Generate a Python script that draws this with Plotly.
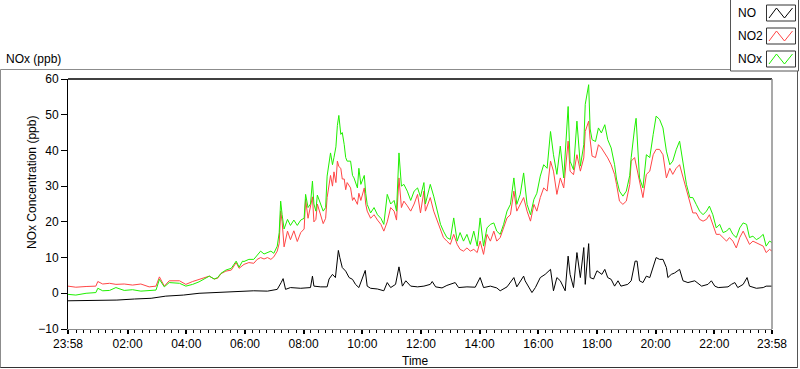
import plotly.graph_objects as go

# ---------------- data (minutes since 23:58, ppb) ----------------
t_seg1 = [0, 16, 37, 57, 61, 71, 85, 98, 115, 132, 149, 166, 180, 187, 197, 207, 228, 241, 255, 268,
          282, 289, 299, 306, 313, 323, 334, 344, 350, 357]
t_seg2 = [360, 370, 380, 387, 394, 401, 408, 415, 421, 428, 432, 435, 438, 442, 449, 455, 462, 469, 476, 483,
          486, 491, 496, 500, 503, 507, 510, 517, 522, 527, 530, 537, 541, 544, 548, 551, 554, 558, 561, 565,
          568, 571, 578, 582, 585, 592, 595, 599, 606, 609, 612, 619, 626, 633, 640, 646, 653, 660, 667, 672,
          677, 682, 687, 694, 701, 708, 715, 721, 728]
t_seg3 = [731, 741, 748, 755, 762, 768, 775, 782, 789, 796, 802, 809, 816, 823, 830, 837, 843, 850, 857, 864,
          871, 877, 884, 891, 898, 905, 912, 918, 925, 932, 939, 946, 953, 959, 966, 973, 980, 987, 993, 1000,
          1007, 1014, 1023, 1027, 1034, 1041, 1048, 1055, 1058, 1065, 1068, 1072, 1079, 1085]
t_seg4 = [1091, 1098, 1104, 1111, 1118, 1122, 1128, 1135, 1142, 1149, 1152, 1159, 1162, 1169, 1176, 1183, 1190,
          1197, 1203, 1210, 1217, 1224, 1231, 1237, 1244, 1251, 1258, 1265, 1272, 1278, 1285, 1292, 1299, 1306,
          1312, 1319, 1326, 1333, 1340, 1347, 1353, 1360, 1367, 1374, 1381, 1388, 1394, 1401, 1408, 1415, 1422,
          1428, 1435, 1440]
time_nox = t_seg1 + t_seg2 + t_seg3 + t_seg4

no2_values = [
    2.0, 1.7, 1.9, 2.0, 3.3, 2.6, 2.8, 2.5, 2.6, 2.3, 2.6, 1.8, 2.0, 4.6, 2.0, 3.5, 3.5, 2.5, 3.3, 3.8,
    4.4, 4.8, 4.0, 4.2, 5.5, 6.2, 6.5, 8.6, 7.0, 7.8,
    8.1, 8.6, 8.4, 9.5, 10, 9.6, 10, 9.5, 10.2, 11.8, 14, 23, 20, 13, 17.4, 15, 17.5, 14.5, 17, 18,
    26.3, 21, 24, 27, 20, 20.7, 25, 22, 19.5, 21, 26.8, 33, 30, 34, 31, 37, 35.5, 35, 32, 32,
    29, 31, 29.5, 26, 26.8, 24.9, 28, 26, 29.5, 25, 23, 21, 22, 20.5, 19.3, 17.4, 20, 24, 23, 20.5,
    32.3, 24, 25.8, 24.5, 23, 25, 27.7, 22.5, 28.6,
    23, 26.8, 23, 20.2, 17.4, 15.6, 14.6, 13.7, 16.5, 13.7, 12.3, 11.8, 12.7, 11.8, 12.3, 11.4, 14.6, 10.9, 16.5, 14.6,
    17.4, 14.6, 15.6, 18.3, 21.1, 22, 28.6, 23, 24.9, 26.8, 23, 20.2, 24.9, 23, 26.8, 29.5, 28.6, 37, 34.2, 27.7,
    32.3, 29.5, 42.6, 34.2, 33.2, 38.8, 34.2, 37.9, 45.3, 48.2, 43, 38.4, 38, 41.6,
    40.7, 39.3, 37.9, 36, 33.3, 30.5, 25.8, 24.9, 25.8, 30.5, 37, 38, 36, 30.5, 26.8, 33.3, 34.2, 38.8, 40.3, 40.3,
    38.8, 32.3, 35, 33.3, 35, 36, 32.3, 28.6, 24.9, 22.5, 22.5, 20.7, 20.2, 20.7, 22, 19.3, 16.5, 16.5, 15.6, 14.6,
    15.6, 14.6, 12.7, 15.6, 17.4, 15.6, 13.7, 14.6, 14.2, 13.7, 13.2, 11.4, 12.3, 11.8]

nox_values = [
    -0.3, -0.5, 0.0, 0.2, 1.4, 0.7, 0.8, 1.6, 0.8, 1.0, 0.6, 0.7, 0.9, 3.9, 1.8, 3.0, 2.8, 2.0, 2.5, 3.2,
    4.4, 4.8, 4.0, 4.4, 5.6, 6.5, 7.0, 9.0, 7.3, 9.0,
    8.9, 9.5, 9.5, 10.5, 11.8, 11, 11.3, 11.8, 11.2, 13.2, 17, 25.8, 22, 18, 20.7, 19, 20.5, 19, 20.5, 21,
    27.7, 24, 25, 31.4, 25, 23, 27.5, 25, 23, 24, 32.8, 39.3, 36, 38, 41, 47, 49.8, 44.5, 45, 41.6,
    38, 37, 37, 33, 32.3, 29.5, 35, 30.5, 33, 28, 24.9, 22.5, 24, 22, 21, 19.3, 27.7, 25, 26, 23,
    39.3, 30, 30.5, 28.6, 26, 28.6, 29.5, 27, 31,
    25, 30.5, 27.2, 23, 19.3, 17.4, 15.6, 15.1, 21.1, 14.6, 17, 14.6, 16.5, 13.7, 17.4, 13.2, 21.1, 13.2, 18.3, 19.3,
    19.7, 17.4, 16.5, 19.3, 23, 24.9, 32.3, 24.9, 27.7, 33.7, 24.9, 22, 26.3, 28, 32.8, 36, 35, 45.3, 38.8, 33.3,
    41.2, 32.3, 52.3, 37, 34.6, 48.2, 35.6, 41.6, 52.9, 58.4, 46, 43, 42.5, 46.3,
    44.9, 47.2, 43, 40.7, 36, 32, 28.6, 27.2, 28.6, 33, 38, 46.3, 49, 32.3, 29.5, 38.8, 38, 44.5, 49.6, 48.7,
    46.3, 39.8, 36, 37, 40.2, 42.6, 37, 30.5, 26.8, 26.8, 24.9, 23, 22, 23, 24.4, 22, 18.3, 19.3, 17, 17.4,
    18.3, 16.5, 15.6, 18.3, 19.7, 19.3, 15.6, 16, 15, 15.6, 16.5, 13.2, 14.6, 14.2]

time_no = [0, 30, 60, 100, 136, 170, 200, 236, 268, 299, 333, 357,
           380, 408, 428, 436, 440, 445, 455, 476, 496, 500, 503, 517, 530, 534, 541, 547, 553, 556, 561, 568,
           575, 582, 588, 595, 602, 608, 612, 619, 633, 646, 653, 660, 670, 677, 684, 691, 701, 715, 728,
           741, 745, 752, 765, 775, 792, 799, 816, 833, 843, 850, 864, 877, 884, 898, 912, 918, 932, 935, 949,
           956, 966, 976, 987, 993, 1000, 1007, 1017, 1023, 1027, 1034, 1041, 1048, 1055, 1058, 1065, 1068,
           1075, 1082, 1092,
           1098, 1104, 1111, 1118, 1125, 1131, 1145, 1152, 1160, 1164, 1169, 1176, 1183, 1190, 1197, 1203, 1210,
           1217, 1224, 1227, 1234, 1241, 1251, 1258, 1268, 1282, 1296, 1309, 1316, 1323, 1330, 1350, 1357, 1364,
           1370, 1381, 1389, 1394, 1408, 1422, 1428, 1440]
no_values = [
    -2.1, -2.1, -2.0, -1.9, -1.6, -1.4, -0.8, -0.5, 0.0, 0.2, 0.4, 0.6,
    0.7, 0.6, 1.1, 3, 4.1, 1.1, 1.6, 1.4, 1.6, 4.8, 2.0, 1.8, 1.8, 4.0, 5.3, 4.4, 12, 10, 7.2, 6.2,
    4.4, 3.9, 2.5, 1.6, 3.9, 6.4, 2.0, 1.4, 1.2, 0.7, 3.0, 1.6, 2.5, 7.4, 2.0, 3.5, 2.0, 1.8, 2.0,
    2.5, 3.3, 1.8, 1.5, 2.2, 3.0, 1.6, 1.8, 1.7, 4.4, 1.6, 2.0, 1.5, 0.7, 1.8, 4.4, 1.8, 4.8, 3.5, 0.2,
    1.6, 4.4, 5.3, 6.7, 0.7, 4.4, 3.5, 0.7, 10.4, 5.3, 1.6, 11.4, 4.4, 12.8, 2.5, 13.9, 4.4, 4.0, 6.3, 5.3,
    6.7, 4.4, 3.9, 2.0, 3.5, 2.0, 2.5, 3.5, 9.0, 9.0, 3.5, 3.0, 4.8, 4.4, 7.2, 10.0, 9.5, 9.5, 7.2, 4.4,
    5.3, 5.7, 6.7, 3.5, 3.0, 3.5, 2.0, 2.5, 3.5, 2.0, 1.6, 1.8, 2.5, 3.0, 1.6, 2.5, 4.4, 2.0, 1.4, 1.6,
    2.0, 2.0]

x_tick_vals = [0, 122, 242, 362, 482, 602, 722, 842, 962, 1082, 1202, 1322, 1440]
x_tick_text = ["23:58", "02:00", "04:00", "06:00", "08:00", "10:00", "12:00", "14:00", "16:00",
               "18:00", "20:00", "22:00", "23:58"]
y_tick_vals = [-10, 0, 10, 20, 30, 40, 50, 60]

series_names = ["NO", "NO2", "NOx"]
series_colors = ["#000000", "#ff4646", "#1ff000"]

assert len(time_nox) == len(no2_values) == len(nox_values)
assert len(time_no) == len(no_values)

# ---------------- figure ----------------
W, H = 800, 369
L, R, T, B = 68, 772, 79, 329  # plot area in pixels


def px(x):
    return (x - L) / (R - L)


def py(y):
    return (B - y) / (B - T)


FONT = "Liberation Sans, Arial, sans-serif"

fig = go.Figure()
for name, xs, ys, col in [("NO", time_no, no_values, series_colors[0]),
                          ("NO2", time_nox, no2_values, series_colors[1]),
                          ("NOx", time_nox, nox_values, series_colors[2])]:
    fig.add_trace(go.Scatter(x=xs, y=ys, mode="lines", name=name,
                             line=dict(color=col, width=1), showlegend=False, hoverinfo="skip"))

fig.update_layout(
    width=W, height=H,
    margin=dict(l=L, r=W - R, t=T, b=H - B),
    paper_bgcolor="white", plot_bgcolor="white",
    font=dict(family=FONT, size=12, color="#000000"),
    xaxis=dict(range=[0, 1440], tickmode="array", tickvals=x_tick_vals, ticktext=x_tick_text,
               showgrid=False, zeroline=False, showline=True, linecolor="#8c8c8c", linewidth=1,
               ticks="outside", ticklen=4, tickwidth=2, tickcolor="#000000",
               tickfont=dict(size=12),
               minor=dict(ticks="outside", tick0=2, dtick=15, ticklen=3, tickwidth=1,
                          tickcolor="#000000", showgrid=False)),
    yaxis=dict(range=[-10, 60], tickmode="array", tickvals=y_tick_vals,
               showgrid=False, zeroline=False, showline=True, linecolor="#000000", linewidth=1,
               ticks="outside", ticklen=6, tickwidth=1, tickcolor="#000000",
               tickfont=dict(size=12)),
)

shapes = []
# plot area top (black) and right (gray) borders
shapes.append(dict(type="line", xref="paper", yref="paper", x0=px(L), x1=px(R), y0=1, y1=1,
                   line=dict(color="#000000", width=1.5)))
shapes.append(dict(type="line", xref="paper", yref="paper", x0=px(R), x1=px(R), y0=0, y1=1,
                   line=dict(color="#8c8c8c", width=1.5)))
# outer frame
shapes.append(dict(type="line", xref="paper", yref="paper", x0=px(0.5), x1=px(730), y0=py(69.5), y1=py(69.5),
                   line=dict(color="#8c8c8c", width=1)))
shapes.append(dict(type="line", xref="paper", yref="paper", x0=px(0.5), x1=px(0.5), y0=py(69.5), y1=py(368),
                   line=dict(color="#8c8c8c", width=1)))
shapes.append(dict(type="line", xref="paper", yref="paper", x0=px(0.5), x1=px(797.5), y0=py(367.5), y1=py(367.5),
                   line=dict(color="#333333", width=1)))
shapes.append(dict(type="line", xref="paper", yref="paper", x0=px(797.5), x1=px(797.5), y0=py(71), y1=py(368),
                   line=dict(color="#555555", width=1)))
# legend box
shapes.append(dict(type="rect", xref="paper", yref="paper", x0=px(730.5), x1=px(798.5), y0=py(71), y1=py(-1),
                   line=dict(color="#555555", width=1), fillcolor="white"))
annotations = []
legend_rows = [13, 36, 59]
for name, col, cy in zip(series_names, series_colors, legend_rows):
    x0, x1 = 766.5, 795.5
    y0, y1 = cy - 8, cy + 8
    shapes.append(dict(type="rect", xref="paper", yref="paper", x0=px(x0), x1=px(x1), y0=py(y1), y1=py(y0),
                       line=dict(color="#333333", width=1), fillcolor="white"))
    pts = [(769, y1 - 3), (776.5, y0 + 3), (784.5, y1 - 3), (792.5, y0 + 3)]
    path = "M " + " L ".join(f"{px(a):.5f},{py(b):.5f}" for a, b in pts)
    shapes.append(dict(type="path", xref="paper", yref="paper", path=path,
                       line=dict(color=col, width=1)))
    annotations.append(dict(text=name, xref="paper", yref="paper", x=px(736), y=py(cy),
                            xanchor="left", yanchor="middle", showarrow=False,
                            font=dict(size=12, color="#000000")))

annotations.append(dict(text="NOx (ppb)", xref="paper", yref="paper", x=px(4), y=py(59),
                        xanchor="left", yanchor="middle", showarrow=False, font=dict(size=12)))
annotations.append(dict(text="NOx Concentration (ppb)", xref="paper", yref="paper", x=px(32), y=py(183),
                        xanchor="center", yanchor="middle", textangle=-90, showarrow=False,
                        font=dict(size=12)))
annotations.append(dict(text="Time", xref="paper", yref="paper", x=px(415), y=py(361),
                        xanchor="center", yanchor="middle", showarrow=False, font=dict(size=12)))

fig.update_layout(shapes=shapes, annotations=annotations)
fig.write_html("out.html", config={"displayModeBar": False},
               post_script="document.body.style.margin='0';document.body.style.padding='0';"
                           "document.body.style.overflow='hidden';")
